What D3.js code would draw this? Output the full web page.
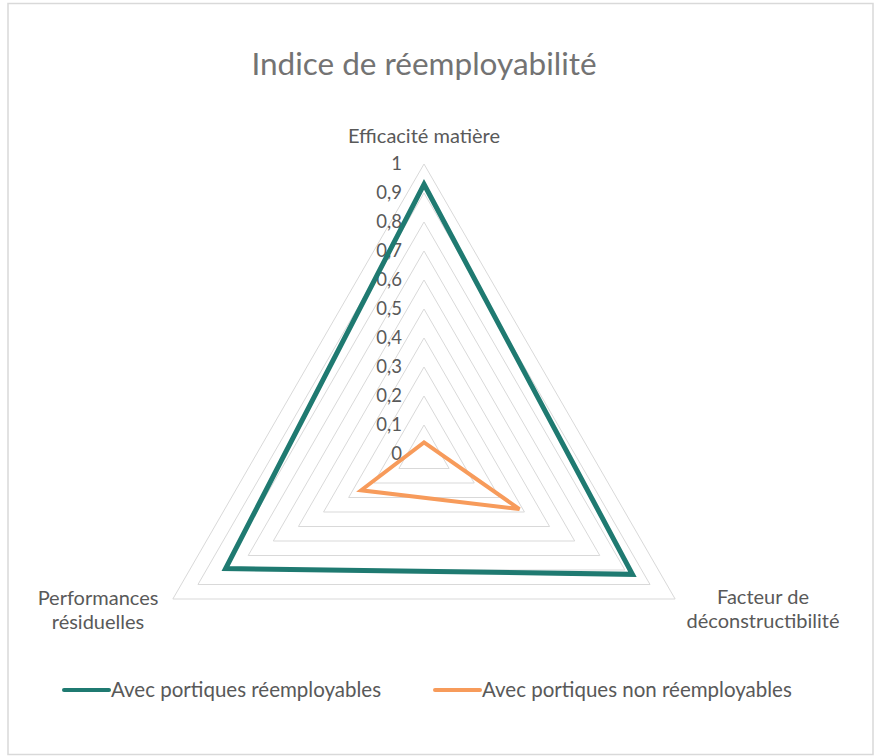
<!DOCTYPE html>
<html>
<head>
<meta charset="utf-8">
<script src="https://cdn.jsdelivr.net/npm/d3@7"></script>
<style>
    body { margin: 0; background: #fff; }
    text { font-family: Lato, "Open Sans", sans-serif; fill: #595959; }
</style>
</head>
<body>
<div id="chart"></div>
<script>
const axes = [
    ["Efficacité matière"],
    ["Facteur de", "déconstructibilité"],
    ["Performances", "résiduelles"]
];
const seriesNames = ["Avec portiques réemployables", "Avec portiques non réemployables"];
const seriesColors = ["#1f7a71", "#f79b5b"];
const reusableValues = [0.93, 0.83, 0.79];
const nonReusableValues = [0.04, 0.38, 0.25];
const tickValues = [0, 0.1, 0.2, 0.3, 0.4, 0.5, 0.6, 0.7, 0.8, 0.9, 1];

const width = 877;
const height = 756;
const cx = 424;
const cy = 454;
const radius = 290;

const svg = d3.select("#chart")
    .append("svg")
    .attr("width", width)
    .attr("height", height);

// outer frame
svg.append("rect")
    .attr("x", 8)
    .attr("y", 3.5)
    .attr("width", 865)
    .attr("height", 751)
    .attr("fill", "#fff")
    .attr("stroke", "#d9d9d9")
    .attr("stroke-width", 1.5);

const r = d3.scaleLinear().domain([0, 1]).range([0, radius]);
const angle = d3.scaleLinear().domain([0, axes.length]).range([-Math.PI / 2, 3 * Math.PI / 2]);

const g = svg.append("g").attr("transform", `translate(${cx},${cy})`);

function point(i, v) {
    const a = angle(i);
    return [Math.cos(a) * r(v), Math.sin(a) * r(v)];
}

const polyLine = d3.line().curve(d3.curveLinearClosed);

// grid triangles
g.selectAll("path.grid")
    .data(tickValues.filter(t => t > 0))
    .enter()
    .append("path")
    .attr("class", "grid")
    .attr("d", t => polyLine(axes.map((a, i) => point(i, t))))
    .attr("fill", "none")
    .attr("stroke", "#d9d9d9")
    .attr("stroke-width", 1);

// tick labels
g.selectAll("text.tick")
    .data(tickValues)
    .enter()
    .append("text")
    .attr("class", "tick")
    .attr("x", -22)
    .attr("y", t => -r(t))
    .attr("dy", "0.35em")
    .attr("text-anchor", "end")
    .style("font-size", "18.5px")
    .text(t => String(t).replace(".", ","));

// series
const series = [
    { name: seriesNames[0], values: reusableValues, color: seriesColors[0], w: 5 },
    { name: seriesNames[1], values: nonReusableValues, color: seriesColors[1], w: 4 }
];

g.selectAll("path.series")
    .data(series)
    .enter()
    .append("path")
    .attr("class", "series")
    .attr("d", s => polyLine(s.values.map((v, i) => point(i, v))))
    .attr("fill", "none")
    .attr("stroke", d => d.color)
    .attr("stroke-width", d => d.w)
    .attr("stroke-linejoin", "miter");

// axis labels
const labelPos = [[0, -318], [339, 143], [-326, 144]];
const lab = g.selectAll("text.axis")
    .data(axes)
    .enter()
    .append("text")
    .attr("class", "axis")
    .attr("text-anchor", "middle")
    .attr("transform", (d, i) => `translate(${labelPos[i][0]},${labelPos[i][1]})`)
    .style("font-size", "20px");

lab.selectAll("tspan")
    .data(d => d)
    .enter()
    .append("tspan")
    .attr("x", 0)
    .attr("y", (d, i) => i * 24)
    .attr("dy", "0.35em")
    .text(d => d);

// title
svg.append("text")
    .attr("x", cx)
    .attr("y", 64)
    .attr("dy", "0.35em")
    .attr("text-anchor", "middle")
    .style("font-size", "31.5px")
    .style("fill", "#737373")
    .text("Indice de réemployabilité");

// legend
const legendX = [64, 435];
const legend = svg.selectAll("g.legend")
    .data(series)
    .enter()
    .append("g")
    .attr("class", "legend")
    .attr("transform", (d, i) => `translate(${legendX[i]},690)`);

legend.append("line")
    .attr("x1", 0)
    .attr("x2", 45)
    .attr("stroke", d => d.color)
    .attr("stroke-width", 4)
    .attr("stroke-linecap", "round");

legend.append("text")
    .attr("x", 47)
    .attr("dy", "0.35em")
    .style("font-size", "20.5px")
    .text(d => d.name);
</script>
</body>
</html>
